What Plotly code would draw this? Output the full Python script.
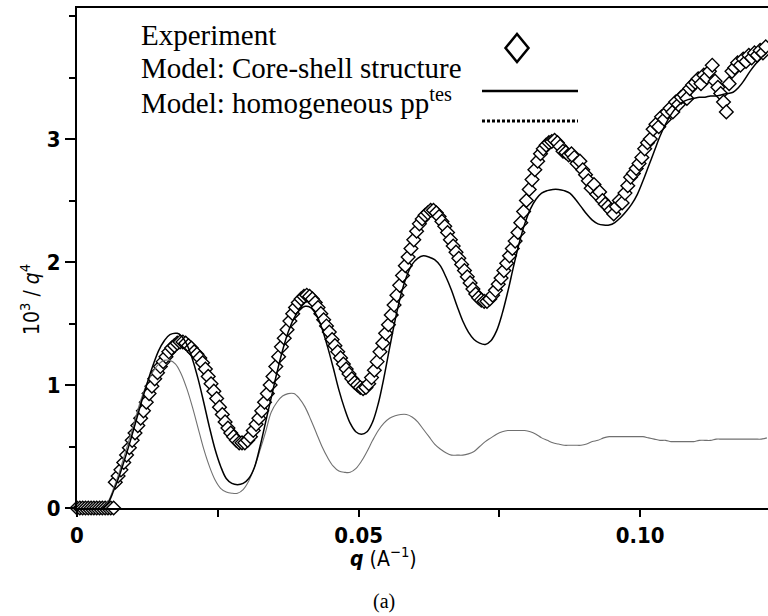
import plotly.graph_objects as go

# ---------------- data ----------------
q_exp = [0.0000, 0.0005, 0.0010, 0.0015, 0.0020, 0.0025, 0.0030, 0.0035, 0.0040, 0.0045,
         0.0050, 0.0055, 0.0060, 0.0065,
         0.0068, 0.0073, 0.0078, 0.0083, 0.0088, 0.0093, 0.0098, 0.0103, 0.0108, 0.0113,
         0.0118, 0.0123, 0.0128, 0.0133, 0.0138, 0.0143, 0.0148, 0.0153, 0.0158, 0.0163,
         0.0168, 0.0173, 0.0178, 0.0183, 0.0188, 0.0193, 0.0198, 0.0203, 0.0208, 0.0213,
         0.0218, 0.0223, 0.0228, 0.0233, 0.0238, 0.0243, 0.0248, 0.0253, 0.0258, 0.0263,
         0.0268, 0.0273, 0.0278, 0.0283, 0.0288, 0.0293, 0.0298, 0.0303, 0.0308, 0.0313,
         0.0318, 0.0323, 0.0328, 0.0333, 0.0338, 0.0343, 0.0348, 0.0353, 0.0358, 0.0363,
         0.0368, 0.0373, 0.0378, 0.0383, 0.0388, 0.0393, 0.0398, 0.0403, 0.0408, 0.0413,
         0.0418, 0.0423, 0.0428, 0.0433, 0.0438, 0.0443, 0.0448, 0.0453, 0.0458, 0.0463,
         0.0468, 0.0473, 0.0478, 0.0483, 0.0488, 0.0493, 0.0498, 0.0503, 0.0508, 0.0513,
         0.0518, 0.0523, 0.0528, 0.0533, 0.0538, 0.0543, 0.0548, 0.0553, 0.0558, 0.0563,
         0.0568, 0.0573, 0.0578, 0.0583, 0.0588, 0.0593, 0.0598, 0.0603, 0.0608, 0.0613,
         0.0618, 0.0623, 0.0628, 0.0633, 0.0638, 0.0643, 0.0648, 0.0653, 0.0658, 0.0663,
         0.0668, 0.0673, 0.0678, 0.0683, 0.0688, 0.0693, 0.0698, 0.0703, 0.0708, 0.0713,
         0.0718, 0.0723, 0.0728, 0.0733, 0.0738, 0.0743, 0.0748, 0.0753, 0.0758, 0.0763,
         0.0768, 0.0773, 0.0778, 0.0783, 0.0788, 0.0793, 0.0798, 0.0803, 0.0808, 0.0813,
         0.0818, 0.0823, 0.0828, 0.0833, 0.0838, 0.0843, 0.0848, 0.0853, 0.0858, 0.0863,
         0.0868, 0.0873, 0.0878, 0.0883, 0.0888, 0.0893, 0.0898, 0.0903, 0.0908, 0.0913,
         0.0918, 0.0923, 0.0928, 0.0933, 0.0938, 0.0943, 0.0948, 0.0953, 0.0958, 0.0963,
         0.0968, 0.0973, 0.0978, 0.0983, 0.0988, 0.0993, 0.0998, 0.1003, 0.1008, 0.1013,
         0.1018, 0.1023, 0.1028, 0.1033, 0.1038, 0.1043, 0.1048, 0.1053, 0.1058, 0.1063,
         0.1068, 0.1073, 0.1078, 0.1083, 0.1088, 0.1093, 0.1098, 0.1103, 0.1108, 0.1113,
         0.1118, 0.1123, 0.1128, 0.1133, 0.1138, 0.1143, 0.1148, 0.1153, 0.1158, 0.1163,
         0.1168, 0.1173, 0.1178, 0.1183, 0.1188, 0.1193, 0.1198, 0.1203, 0.1208, 0.1213,
         0.1218, 0.1223]
v_exp = [0, 0, 0, 0, 0, 0, 0, 0, 0, 0,
         0, 0, 0, 0,
         0.21, 0.26, 0.31, 0.37, 0.43, 0.49, 0.55, 0.61, 0.67, 0.73,
         0.79, 0.86, 0.93, 0.99, 1.05, 1.10, 1.15, 1.19, 1.23, 1.27,
         1.30, 1.32, 1.34, 1.35, 1.35, 1.34, 1.32, 1.30, 1.27, 1.25,
         1.22, 1.18, 1.13, 1.07, 1.01, 0.95, 0.89, 0.82, 0.76, 0.70,
         0.65, 0.61, 0.58, 0.55, 0.53, 0.53, 0.53, 0.55, 0.58, 0.63,
         0.68, 0.73, 0.79, 0.86, 0.93, 1.00, 1.07, 1.15, 1.23, 1.31,
         1.38, 1.45, 1.52, 1.58, 1.63, 1.67, 1.70, 1.72, 1.73, 1.72,
         1.70, 1.67, 1.63, 1.58, 1.53, 1.48, 1.43, 1.37, 1.32, 1.27,
         1.22, 1.17, 1.13, 1.09, 1.05, 1.02, 1.00, 0.98, 0.97, 0.98,
         1.01, 1.06, 1.12, 1.19, 1.27, 1.34, 1.42, 1.49, 1.57, 1.65,
         1.73, 1.81, 1.89, 1.97, 2.04, 2.11, 2.18, 2.25, 2.31, 2.35,
         2.38, 2.40, 2.42, 2.42, 2.40, 2.37, 2.33, 2.29, 2.24, 2.18,
         2.13, 2.08, 2.03, 1.98, 1.93, 1.88, 1.83, 1.78, 1.74, 1.71,
         1.69, 1.68, 1.68, 1.70, 1.73, 1.77, 1.82, 1.87, 1.93, 1.99,
         2.05, 2.11, 2.17, 2.24, 2.32, 2.41, 2.50, 2.59, 2.67, 2.75,
         2.82, 2.88, 2.92, 2.95, 2.97, 2.98, 2.99, 2.97, 2.94, 2.90,
         2.89, 2.87, 2.88, 2.85, 2.80, 2.82, 2.75, 2.71, 2.66, 2.60,
         2.63, 2.55, 2.57, 2.50, 2.47, 2.45, 2.42, 2.39, 2.45, 2.50,
         2.48, 2.56, 2.62, 2.69, 2.72, 2.76, 2.80, 2.85, 2.92, 2.97,
         3.00, 3.08, 3.12, 3.10, 3.18, 3.16, 3.22, 3.25, 3.22, 3.30,
         3.28, 3.34, 3.36, 3.33, 3.41, 3.44, 3.46, 3.49, 3.45, 3.52,
         3.50, 3.55, 3.60, 3.47, 3.42, 3.37, 3.30, 3.22, 3.45, 3.55,
         3.58, 3.62, 3.60, 3.65, 3.63, 3.68, 3.66, 3.70, 3.68, 3.72,
         3.70, 3.75]

q_core = [0.0045, 0.0055, 0.0065, 0.0075, 0.0085, 0.0095, 0.0105, 0.0115, 0.0125, 0.0135,
          0.0145, 0.0155, 0.0165, 0.0178, 0.0185, 0.0195, 0.0205, 0.0215, 0.0225, 0.0235,
          0.0245, 0.0255, 0.0265, 0.0275, 0.0285, 0.0295, 0.0305, 0.0315, 0.0325, 0.0335,
          0.0345, 0.0355, 0.0365, 0.0375, 0.0385, 0.0395, 0.0405, 0.0415, 0.0425, 0.0435,
          0.0445, 0.0455, 0.0465, 0.0475, 0.0485, 0.0495, 0.0505, 0.0515, 0.0525, 0.0535,
          0.0545, 0.0555, 0.0565, 0.0575, 0.0585, 0.0595, 0.0605, 0.0615, 0.0625, 0.0635,
          0.0645, 0.0655, 0.0665, 0.0675, 0.0685, 0.0695, 0.0705, 0.0715, 0.0725, 0.0735,
          0.0745, 0.0755, 0.0765, 0.0775, 0.0785, 0.0795, 0.0805, 0.0815, 0.0825, 0.0835,
          0.0845, 0.0855, 0.0865, 0.0875, 0.0885, 0.0895, 0.0905, 0.0915, 0.0925, 0.0935,
          0.0945, 0.0955, 0.0965, 0.0975, 0.0985, 0.0995, 0.1005, 0.1015, 0.1025, 0.1035,
          0.1045, 0.1055, 0.1065, 0.1075, 0.1085, 0.1095, 0.1105, 0.1115, 0.1125, 0.1135,
          0.1145, 0.1155, 0.1165, 0.1175, 0.1185, 0.1195, 0.1205, 0.1215, 0.1225]
v_core = [0.00, 0.04, 0.14, 0.26, 0.40, 0.55, 0.71, 0.87, 1.02, 1.16,
          1.28, 1.36, 1.41, 1.42, 1.40, 1.33, 1.21, 1.05, 0.86, 0.66,
          0.48, 0.34, 0.24, 0.20, 0.19, 0.20, 0.24, 0.33, 0.50, 0.70,
          0.90, 1.10, 1.28, 1.43, 1.54, 1.61, 1.64, 1.63, 1.57, 1.46,
          1.31, 1.14, 0.96, 0.81, 0.69, 0.62, 0.60, 0.62, 0.70, 0.85,
          1.06, 1.30, 1.53, 1.73, 1.88, 1.98, 2.03, 2.05, 2.04, 2.02,
          1.97, 1.88, 1.77, 1.64, 1.52, 1.43, 1.37, 1.34, 1.33, 1.36,
          1.44, 1.58, 1.76, 1.96, 2.15, 2.31, 2.43, 2.51, 2.56, 2.58,
          2.59, 2.59, 2.58, 2.56, 2.51, 2.45, 2.39, 2.34, 2.31, 2.30,
          2.30, 2.32, 2.36, 2.41, 2.47, 2.55, 2.66, 2.78, 2.90, 3.02,
          3.12, 3.20, 3.26, 3.30, 3.32, 3.33, 3.34, 3.34, 3.35, 3.35,
          3.36, 3.37, 3.38, 3.42, 3.48, 3.55, 3.61, 3.66, 3.70]

q_homo = [0.0045, 0.0055, 0.0065, 0.0075, 0.0085, 0.0095, 0.0105, 0.0115, 0.0125, 0.0135,
          0.0145, 0.0155, 0.0165, 0.0175, 0.0185, 0.0195, 0.0205, 0.0215, 0.0225, 0.0235,
          0.0245, 0.0255, 0.0265, 0.0275, 0.0285, 0.0295, 0.0305, 0.0315, 0.0325, 0.0335,
          0.0345, 0.0355, 0.0365, 0.0375, 0.0385, 0.0395, 0.0405, 0.0415, 0.0425, 0.0435,
          0.0445, 0.0455, 0.0465, 0.0475, 0.0485, 0.0495, 0.0505, 0.0515, 0.0525, 0.0535,
          0.0545, 0.0555, 0.0565, 0.0575, 0.0585, 0.0595, 0.0605, 0.0615, 0.0625, 0.0635,
          0.0645, 0.0655, 0.0665, 0.0675, 0.0685, 0.0695, 0.0705, 0.0715, 0.0725, 0.0735,
          0.0745, 0.0755, 0.0765, 0.0775, 0.0785, 0.0795, 0.0805, 0.0815, 0.0825, 0.0835,
          0.0845, 0.0855, 0.0865, 0.0875, 0.0885, 0.0895, 0.0905, 0.0915, 0.0925, 0.0935,
          0.0945, 0.0955, 0.0965, 0.0975, 0.0985, 0.0995, 0.1005, 0.1015, 0.1025, 0.1035,
          0.1045, 0.1055, 0.1065, 0.1075, 0.1085, 0.1095, 0.1105, 0.1115, 0.1125, 0.1135,
          0.1145, 0.1155, 0.1165, 0.1175, 0.1185, 0.1195, 0.1205, 0.1215, 0.1225]
v_homo = [0.00, 0.05, 0.16, 0.29, 0.44, 0.59, 0.75, 0.90, 1.02, 1.11,
          1.17, 1.20, 1.20, 1.17, 1.09, 0.97, 0.82, 0.65, 0.48, 0.34,
          0.23, 0.16, 0.13, 0.12, 0.12, 0.15, 0.22, 0.33, 0.47, 0.62,
          0.78, 0.86, 0.91, 0.93, 0.93, 0.89, 0.82, 0.72, 0.61, 0.50,
          0.41, 0.34, 0.30, 0.29, 0.29, 0.32, 0.38, 0.46, 0.55, 0.63,
          0.69, 0.73, 0.75, 0.76, 0.76, 0.74, 0.70, 0.64, 0.58, 0.52,
          0.48, 0.45, 0.43, 0.43, 0.43, 0.44, 0.46, 0.50, 0.54, 0.57,
          0.60, 0.62, 0.63, 0.63, 0.63, 0.63, 0.62, 0.60, 0.57, 0.55,
          0.53, 0.52, 0.51, 0.51, 0.51, 0.51, 0.52, 0.54, 0.55, 0.57,
          0.58, 0.58, 0.58, 0.58, 0.58, 0.58, 0.58, 0.57, 0.56, 0.55,
          0.55, 0.54, 0.54, 0.54, 0.54, 0.54, 0.55, 0.55, 0.55, 0.56,
          0.56, 0.56, 0.56, 0.56, 0.56, 0.56, 0.56, 0.56, 0.57]

x_ticks = [0, 0.05, 0.10]
x_tick_labels = ["0", "0.05", "0.10"]
y_ticks = [0, 1, 2, 3]
y_tick_labels = ["0", "1", "2", "3"]

legend_labels = ["Experiment", "Model: Core-shell structure", "Model: homogeneous pp<sup>tes</sup>"]

# ---------------- figure ----------------
W, H = 768, 616
L, R, T, B = 77, 0, 8, 108
pw, ph = W - L - R, H - T - B


def px(x):
    return (x - L) / pw


def py(y):
    return (H - B - y) / ph


fig = go.Figure()

fig.add_trace(go.Scatter(
    x=q_exp, y=v_exp, mode="markers",
    marker=dict(symbol="diamond", size=10.5, color="white",
                line=dict(color="black", width=1.4)),
    cliponaxis=False, showlegend=False))

fig.add_trace(go.Scatter(
    x=q_homo, y=v_homo, mode="lines", line=dict(color="#707070", width=1.1, shape="spline"),
    showlegend=False))

fig.add_trace(go.Scatter(
    x=q_core, y=v_core, mode="lines", line=dict(color="black", width=1.5, shape="spline"),
    showlegend=False))

cond = "DejaVu Sans Condensed, Liberation Sans Narrow, Liberation Sans, Arial"
tickfont = dict(family=cond, size=22, color="black", weight="bold")

fig.update_layout(
    width=W, height=H,
    margin=dict(l=L, r=R, t=T, b=B, pad=0),
    paper_bgcolor="white", plot_bgcolor="white",
    xaxis=dict(range=[0, 0.1227], tickvals=x_ticks, ticktext=x_tick_labels,
               showgrid=False, zeroline=False, showline=True, linecolor="black", linewidth=2,
               mirror=True, ticks="outside", ticklen=7, tickwidth=1.5, tickcolor="black",
               tickfont=tickfont,
               minor=dict(dtick=0.025, ticks="outside", ticklen=7, tickwidth=1.5, tickcolor="black")),
    yaxis=dict(range=[0, 4.065], tickvals=y_ticks, ticktext=y_tick_labels,
               showgrid=False, zeroline=False, showline=True, linecolor="black", linewidth=2,
               ticks="outside", ticklen=10, tickwidth=1.5, tickcolor="black",
               tickfont=tickfont,
               minor=dict(dtick=0.5, ticks="outside", ticklen=6, tickwidth=1.5, tickcolor="black")),
)

serif = dict(family="Liberation Serif, Times New Roman, serif", size=29, color="black")
legend_y = [35, 68, 101]
for lab, yy in zip(legend_labels, legend_y):
    fig.add_annotation(x=px(139), y=py(yy), xref="paper", yref="paper", text=lab,
                       showarrow=False, xanchor="left", yanchor="middle", font=serif)

# legend symbols
cx, cy, hw, hh = px(517), py(48), 11.5 / pw, 14 / ph
fig.add_shape(type="path", xref="paper", yref="paper",
              path=f"M {cx - hw},{cy} L {cx},{cy + hh} L {cx + hw},{cy} L {cx},{cy - hh} Z",
              line=dict(color="black", width=2.5), fillcolor="white")
fig.add_shape(type="line", xref="paper", yref="paper", x0=px(482), x1=px(578), y0=py(91), y1=py(91),
              line=dict(color="black", width=2.5))
fig.add_shape(type="line", xref="paper", yref="paper", x0=px(482), x1=px(578), y0=py(121), y1=py(121),
              line=dict(color="black", width=3, dash="3px,2px"))

# axis titles
sans = dict(family=cond, size=21, color="black")
fig.add_annotation(x=px(383), y=py(557), xref="paper", yref="paper",
                   text="<b><i>q</i></b> (A<sup>\u22121</sup>)", showarrow=False,
                   xanchor="center", yanchor="middle", font=sans)
fig.add_annotation(x=px(30), y=py(300), xref="paper", yref="paper",
                   text="10<sup>3</sup> / <i>q</i><sup>4</sup>", showarrow=False, textangle=-90,
                   xanchor="center", yanchor="middle", font=sans)
fig.add_annotation(x=px(384), y=py(601), xref="paper", yref="paper",
                   text="(a)", showarrow=False, xanchor="center", yanchor="middle",
                   font=dict(family="Liberation Serif, Times New Roman, serif", size=20, color="black"))

fig.write_html("out.html")
